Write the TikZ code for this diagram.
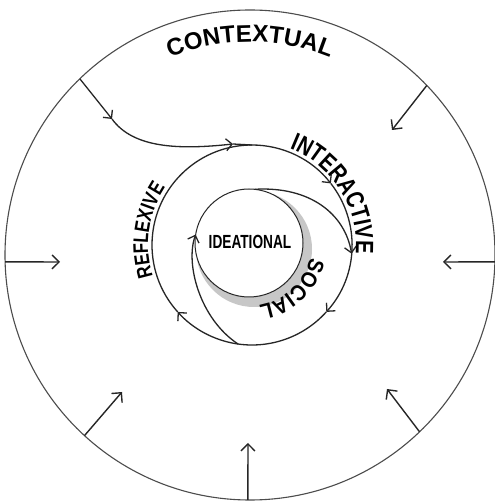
\documentclass[tikz,border=0pt]{standalone}
\usepackage{fontspec}
\setmainfont{Liberation Sans}
\newfontfamily\ctxfont{Liberation Sans}
\newfontfamily\intfont[FakeStretch=0.80]{Liberation Sans}
\newfontfamily\reffont[FakeStretch=0.80]{Liberation Sans}
\newfontfamily\socfont[FakeStretch=0.90]{Liberation Sans}
\newfontfamily\ideafont[FakeStretch=0.72]{Liberation Sans}
\usetikzlibrary{arrows.meta,calc,decorations.text}
\tikzset{
  outerline/.style={line width=1.1pt, draw=black!70},
  radial/.style={line width=1.4pt, draw=black!85, -{Straight Barb[length=7pt,width=14pt]}},
  flow/.style={line width=1.3pt, draw=black!85},
  flowarrow/.style={flow, -{Straight Barb[length=6pt,width=12pt]}},
  arclabel/.style={decorate, decoration={text along path, text align=center, text color=black, #1}}
}
\begin{document}
\begin{tikzpicture}[x=1pt,y=1pt]
\useasboundingbox (0,0) rectangle (495,504);
\fill[white] (0,0) rectangle (495,504);

\coordinate (O) at (250,249);
\coordinate (M) at (252,259);
\coordinate (I) at (249,261);

% outer circle
\draw[outerline] (O) circle[radius=245];

% radial arrows
\coordinate (rR0) at ($(O)+(-1.6:245)$);   \coordinate (rR1) at (443,242);
\coordinate (rL0) at ($(O)+(181.6:245)$);  \coordinate (rL1) at (60,242);
\coordinate (rTR0) at ($(O)+(43.8:245)$);  \coordinate (rTR1) at (392,374);
\coordinate (rBL0) at ($(O)+(227.5:245)$); \coordinate (rBL1) at (122,112);
\coordinate (rB0) at ($(O)+(269.5:245)$);  \coordinate (rB1) at (248,61);
\coordinate (rBR0) at ($(O)+(-46.2:245)$); \coordinate (rBR1) at (387,115);
\draw[radial] (rR0) -- (rR1);
\draw[radial] (rL0) -- (rL1);
\draw[radial] (rTR0) -- (rTR1);
\draw[radial] (rBL0) -- (rBL1);
\draw[radial] (rB0) -- (rB1);
\draw[radial] (rBR0) -- (rBR1);

% gray crescent and inner circle
\fill[black!22] ($(I)+(5,-6)$) circle[radius=58];
\draw[flow, line width=1pt, fill=white] (I) circle[radius=54];

% middle circle points
\coordinate (m90) at ($(M)+(90:100)$);
\coordinate (m38) at ($(M)+(38:100)$);
\coordinate (mm42) at ($(M)+(-42:100)$);
\coordinate (m222) at ($(M)+(222:100)$);
\coordinate (m262) at ($(M)+(262:100)$);
\coordinate (m355) at ($(M)+(-5:100)$);
\draw[flowarrow] (m90) arc[start angle=90, end angle=38, radius=100];
\draw[flowarrow] (m38) arc[start angle=38, end angle=-42, radius=100];
\draw[flowarrow] (mm42) arc[start angle=-42, end angle=-138, radius=100];
\draw[flow] (m222) arc[start angle=222, end angle=90, radius=100];

% outer spiral entry
\coordinate (s0) at ($(O)+(134:245)$);
\coordinate (s1) at (112,385);
\coordinate (s2) at (233,360);
\draw[flowarrow] (s0) -- (s1);
\draw[flowarrow] (s1) .. controls (133,356) and (178,354) .. (s2);
\draw[flow] (s2) -- (m90);

% inner spiral parts
\coordinate (i171) at ($(I)+(171:54)$);
\coordinate (i84) at ($(I)+(84:54)$);
\draw[flowarrow] (m262) .. controls (200,185) and (185,240) .. (i171);
\draw[flowarrow] (i84) .. controls (310,318) and (345,290) .. (m355);

% labels
\path[arclabel={text={|\ctxfont\bfseries\fontsize{24}{24}\selectfont|CONTEXTUAL}}]
  ($(O)+(140:213)$) arc[start angle=140, end angle=40, radius=213];
\path[arclabel={text={|\intfont\bfseries\fontsize{25}{25}\selectfont|INTERACTIVE}}]
  ($(M)+(82:104)$) arc[start angle=82, end angle=-18, radius=104];
\path[arclabel={text={|\reffont\bfseries\fontsize{21}{21}\selectfont|REFLEXIVE}}]
  ($(M)+(222:104)$) arc[start angle=222, end angle=122, radius=104];
\path[arclabel={text={|\socfont\bfseries\fontsize{22}{22}\selectfont|SOCIAL}}]
  ($(I)+(8:63)$) arc[start angle=8, end angle=-102, radius=63];

\node[font=\ideafont\bfseries\fontsize{19}{19}\selectfont, inner sep=0pt] (idea) at (250,262) {IDEATIONAL};
\end{tikzpicture}
\end{document}
